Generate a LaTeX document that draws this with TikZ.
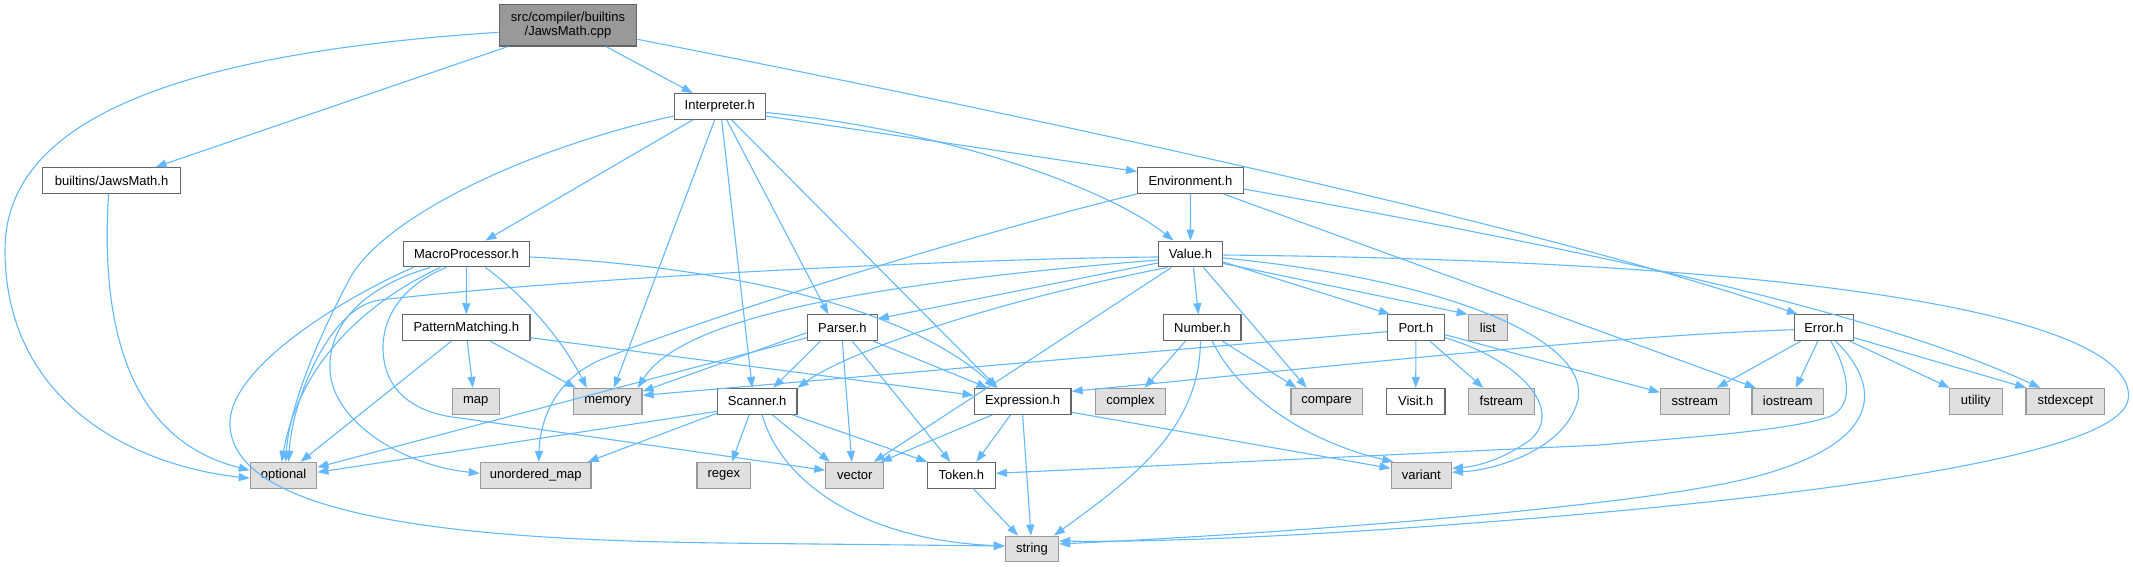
\documentclass[tikz,border=0pt]{standalone}
\usepackage{fontspec}
\setmainfont{Liberation Sans}
\usetikzlibrary{arrows.meta}
\definecolor{bordr}{HTML}{666666}
\definecolor{sysbordr}{HTML}{999999}
\definecolor{sysfill}{HTML}{E0E0E0}
\definecolor{cppfill}{HTML}{999999}
\definecolor{edgeblue}{HTML}{63B8FF}
\tikzset{
  hdr/.style={draw=bordr, fill=white, line width=1.2pt, minimum height=25.7pt, inner sep=0pt,
    font=\fontsize{13}{14}\selectfont},
  sys/.style={hdr, draw=sysbordr, fill=sysfill},
  cppbox/.style={hdr, fill=cppfill, minimum height=41.3pt, align=center},
  edge/.style={draw=edgeblue, line width=1.1pt, -{Triangle[length=11pt,width=8pt]}}
}
\begin{document}
\begin{tikzpicture}[x=1pt,y=-1pt]
\useasboundingbox (0,0) rectangle (2133,567);
% nodes
\node[cppbox, minimum width=137.7pt] (cpp) at (568,25.3) {src/compiler/builtins\\/JawsMath.cpp};
\node[hdr, minimum width=91pt] (interp) at (719.7,106.5) {Interpreter.h};
\node[hdr, minimum width=137.8pt] (jmh) at (111.6,180.5) {builtins/JawsMath.h};
\node[hdr, minimum width=105.6pt] (env) at (1190.4,180.5) {Environment.h};
\node[hdr, minimum width=126.3pt] (macro) at (466.4,254) {MacroProcessor.h};
\node[hdr, minimum width=64.3pt] (value) at (1190.5,254) {Value.h};
\node[hdr, minimum width=127.2pt] (pm) at (466.3,327.7) {PatternMatching.h};
\node[hdr, minimum width=69.8pt] (parser) at (842.3,327.7) {Parser.h};
\node[hdr, minimum width=77.1pt] (number) at (1202.4,327.7) {Number.h};
\node[hdr, minimum width=57pt] (port) at (1415.9,327.7) {Port.h};
\node[sys, minimum width=39.2pt] (list) at (1487.9,327.7) {list};
\node[hdr, minimum width=59.4pt] (error) at (1823.8,327.7) {Error.h};
\node[sys, minimum width=46.9pt] (map) at (475.8,401.3) {map};
\node[sys, minimum width=68.5pt] (memory) at (607.8,401.3) {memory};
\node[hdr, minimum width=79.5pt] (scanner) at (757.2,401.3) {Scanner.h};
\node[hdr, minimum width=96.9pt] (expr) at (1022.6,401.3) {Expression.h};
\node[sys, minimum width=70.2pt] (complex) at (1130.5,401.3) {complex};
\node[sys, minimum width=71.2pt] (compare) at (1326.6,401.3) {compare};
\node[hdr, minimum width=58.4pt] (visit) at (1415.7,401.3) {Visit.h};
\node[sys, minimum width=65.9pt] (fstream) at (1501.3,401.3) {fstream};
\node[sys, minimum width=68.7pt] (sstream) at (1694.8,401.3) {sstream};
\node[sys, minimum width=71.6pt] (iostream) at (1787.8,401.3) {iostream};
\node[sys, minimum width=52.8pt] (utility) at (1975.7,401.3) {utility};
\node[sys, minimum width=78.5pt] (stdexcept) at (2065.3,401.3) {stdexcept};
\node[sys, minimum width=66.5pt] (optional) at (283.6,475.3) {optional};
\node[sys, minimum width=110.7pt] (umap) at (535.7,475.3) {unordered\_map};
\node[sys, minimum width=53.5pt] (regex) at (723.8,475.3) {regex};
\node[sys, minimum width=57.9pt] (vector) at (854.8,475.3) {vector};
\node[hdr, minimum width=68pt] (token) at (961.3,475.3) {Token.h};
\node[sys, minimum width=60.3pt] (variant) at (1421.3,475.3) {variant};
\node[sys, minimum width=53.2pt] (string) at (1032,549) {string};
% cpp
\draw[edge] ([yshift=-7pt]cpp.west) .. controls (150,55) and (5,130) .. (5,250) .. controls (5,400) and (130,465) .. ([yshift=-3pt]optional.west);
\draw[edge] ([xshift=-60pt]cpp.south) -- ([xshift=44pt]jmh.north);
\draw[edge] ([xshift=38pt]cpp.south) -- ([xshift=-27pt]interp.north);
\draw[edge] ([yshift=-14pt]cpp.east) .. controls (1100,130) and (1550,230) .. ([xshift=-26pt]error.north);
% jmh
\draw[edge] ([xshift=-3pt]jmh.south) .. controls (100,330) and (130,440) .. ([yshift=5pt]optional.west);
% interp
\draw[edge] ([xshift=-27pt]interp.south) -- ([xshift=19pt]macro.north);
\draw[edge] ([yshift=-9.5pt]interp.west) .. controls (520,150) and (380,220) .. (349,280) .. controls (325,325) and (290,400) .. ([xshift=2pt]optional.north);
\draw[edge] ([xshift=-5pt]interp.south) -- ([xshift=6pt]memory.north);
\draw[edge] ([xshift=2pt]interp.south) -- ([xshift=-5pt]scanner.north);
\draw[edge] ([xshift=7pt]interp.south) -- ([xshift=-14pt]parser.north);
\draw[edge] ([xshift=12pt]interp.south) -- ([xshift=-25pt]expr.north);
\draw[edge] ([yshift=-6pt]interp.east) .. controls (950,130) and (1110,190) .. ([xshift=-17pt]value.north);
\draw[edge] ([yshift=-9.5pt]interp.east) -- ([yshift=9pt]env.west);
% env
\draw[edge] (env) -- (value);
\draw[edge] (env.south west) .. controls (950,240) and (700,320) .. (600,360) .. controls (555,380) and (540,420) .. ([xshift=3pt]umap.north);
\draw[edge] ([xshift=33pt]env.south) -- ([xshift=-32pt]iostream.north);
\draw[edge] ([yshift=-8.5pt]env.east) .. controls (1500,235) and (1850,300) .. ([xshift=-25pt]stdexcept.north);
% macro
\draw[edge] (macro) -- (pm);
\draw[edge] ([xshift=19pt]macro.south) .. controls (530,300) and (565,345) .. ([xshift=-21pt]memory.north);
\draw[edge] ([yshift=-3pt]macro.east) .. controls (700,265) and (900,300) .. ([xshift=-27pt]expr.north);
\draw[edge] ([xshift=-26pt]macro.south) .. controls (370,300) and (300,360) .. ([xshift=-2pt]optional.north);
\draw[edge] ([xshift=-36pt]macro.south) .. controls (370,285) and (328,320) .. (330,370) .. controls (332,420) and (400,465) .. ([yshift=2pt]umap.west);
\draw[edge] ([xshift=-20pt]macro.south) .. controls (415,280) and (385,305) .. (383,345) .. controls (382,395) and (420,414) .. (460,418) -- ([yshift=5pt]vector.west);
\draw[edge] ([xshift=-53pt]macro.south) .. controls (360,290) and (235,360) .. (230,420) .. controls (225,525) and (500,540) .. (720,543) -- ([yshift=3pt]string.west);
% pm
\draw[edge] ([xshift=1pt]pm.south) -- ([xshift=-3pt]map.north);
\draw[edge] ([xshift=24pt]pm.south) -- ([xshift=-32pt]memory.north);
\draw[edge] ([xshift=-15pt]pm.south) -- ([xshift=17pt]optional.north);
\draw[edge] ([yshift=-10pt]pm.east) -- ([yshift=6pt]expr.west);
% value
\draw[edge] ([yshift=-9pt]value.west) -- ([yshift=9pt]parser.east);
\draw[edge] ([yshift=-6pt]value.west) .. controls (850,285) and (680,320) .. ([xshift=30pt]memory.north);
\draw[edge] ([yshift=-3pt]value.west) .. controls (1000,258) and (600,275) .. (380,300) .. controls (330,306) and (292,400) .. ([xshift=5pt]optional.north);
\draw[edge] ([xshift=-23pt]value.south) .. controls (1000,300) and (850,350) .. (scanner.north east);
\draw[edge] ([xshift=-19pt]value.south) -- ([xshift=19pt]vector.north);
\draw[edge] ([xshift=3pt]value.south) -- ([xshift=-4pt]number.north);
\draw[edge] ([xshift=13pt]value.south) -- ([xshift=-20pt]compare.north);
\draw[edge] ([yshift=-8pt]value.east) -- ([xshift=-26pt]port.north);
\draw[edge] ([yshift=-9.5pt]value.east) -- (list.north west);
\draw[edge] ([yshift=-4pt]value.east) .. controls (1450,280) and (1590,340) .. (1578,400) .. controls (1565,450) and (1495,470) .. ([yshift=3pt]variant.east);
\draw[edge] ([yshift=-1pt]value.east) .. controls (1900,262) and (2140,330) .. (2128,400) .. controls (2115,470) and (1650,510) .. (1460,524) .. controls (1250,540) and (1120,542) .. ([yshift=8pt]string.east);
% number
\draw[edge] ([xshift=-17pt]number.south) -- ([xshift=14pt]complex.north);
\draw[edge] ([xshift=20pt]number.south) -- ([xshift=-30pt]compare.north);
\draw[edge] ([xshift=10pt]number.south) .. controls (1235,390) and (1300,440) .. ([xshift=-28pt]variant.north);
\draw[edge] ([xshift=-2pt]number.south) .. controls (1200,430) and (1130,480) .. ([xshift=22pt]string.north);
% port
\draw[edge] ([yshift=-4pt]port.west) -- ([yshift=6pt]memory.east);
\draw[edge] (port) -- (visit);
\draw[edge] ([xshift=14pt]port.south) -- ([xshift=-18pt]fstream.north);
\draw[edge] ([yshift=-7pt]port.east) -- ([yshift=9pt]sstream.west);
\draw[edge] ([yshift=-10pt]port.east) .. controls (1520,360) and (1565,410) .. (1530,440) .. controls (1505,458) and (1480,466) .. ([yshift=7pt]variant.east);
% error
\draw[edge] ([yshift=-2pt]error.west) .. controls (1600,336) and (1300,370) .. ([yshift=10pt]expr.east);
\draw[edge] ([xshift=-23pt]error.south) -- ([xshift=22pt]sstream.north);
\draw[edge] ([xshift=-6pt]error.south) -- ([xshift=8pt]iostream.north);
\draw[edge] ([xshift=26pt]error.south) -- ([xshift=-26pt]utility.north);
\draw[edge] ([yshift=-10pt]error.east) -- ([xshift=-39pt]stdexcept.north);
\draw[edge] ([xshift=7pt]error.south) .. controls (1848,370) and (1855,405) .. (1831,416) .. controls (1790,432) and (1650,440) .. (1600,445) -- ([yshift=2pt]token.east);
\draw[edge] ([xshift=12pt]error.south) .. controls (1885,390) and (1880,445) .. (1750,478) .. controls (1620,510) and (1250,535) .. ([yshift=5pt]string.east);
% parser
\draw[edge] ([yshift=-5pt]parser.west) -- ([yshift=10pt]memory.east);
\draw[edge] ([yshift=-10pt]parser.west) -- ([yshift=8pt]optional.east);
\draw[edge] ([xshift=-22pt]parser.south) -- ([xshift=16pt]scanner.north);
\draw[edge] ([xshift=31pt]parser.south) -- ([xshift=-35pt]expr.north);
\draw[edge] (parser.south) -- ([xshift=-3pt]vector.north);
\draw[edge] ([xshift=10pt]parser.south) -- ([xshift=-11pt]token.north);
% scanner
\draw[edge] ([xshift=-8pt]scanner.south) -- ([xshift=8pt]regex.north);
\draw[edge] ([xshift=15pt]scanner.south) -- ([xshift=-25pt]vector.north);
\draw[edge] ([xshift=35pt]scanner.south) -- ([xshift=-34pt]token.north);
\draw[edge] ([xshift=5pt]scanner.south) .. controls (780,480) and (860,540) .. ([yshift=3pt]string.west);
\draw[edge] ([yshift=-10pt]scanner.west) -- ([yshift=3pt]optional.east);
\draw[edge] ([yshift=-12pt]scanner.west) -- ([xshift=52pt]umap.north);
% expression
\draw[edge] ([xshift=-30pt]expr.south) -- ([xshift=26pt]vector.north);
\draw[edge] ([xshift=-12pt]expr.south) -- ([xshift=15pt]token.north);
\draw[edge] (expr.south) -- ([xshift=-1pt]string.north);
\draw[edge] ([yshift=-11pt]expr.east) -- ([yshift=7pt]variant.west);
% token
\draw[edge] ([xshift=12pt]token.south) -- ([xshift=-14pt]string.north);
\end{tikzpicture}
\end{document}
